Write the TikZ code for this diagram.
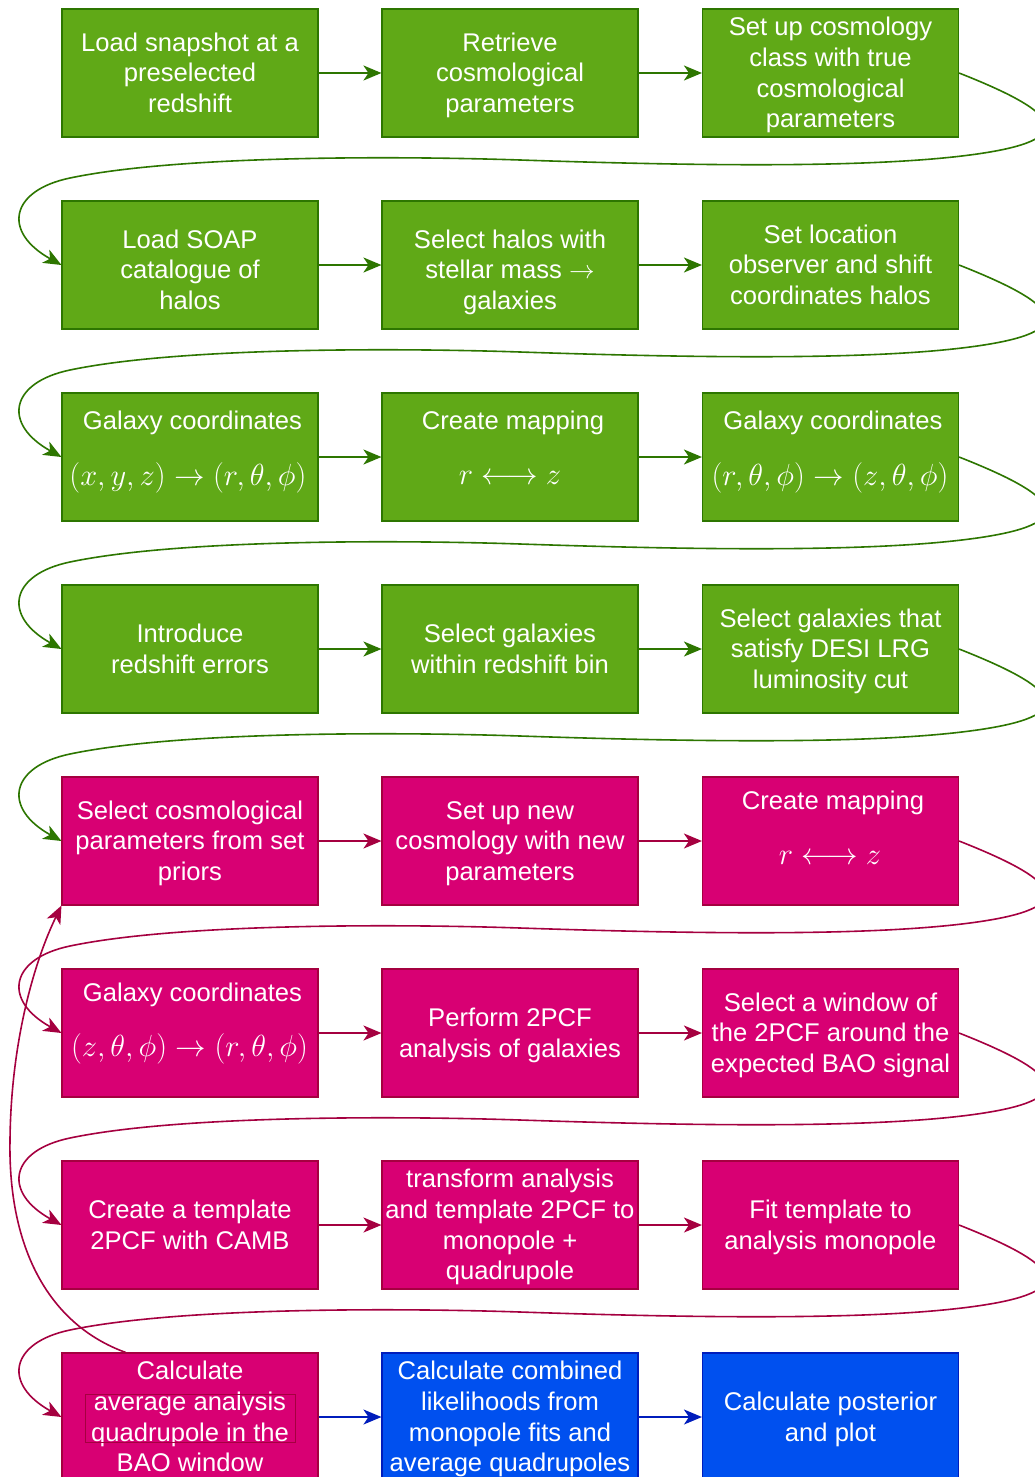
\documentclass[tikz,border=0pt]{standalone}
\usepackage{fix-cm}
\usepackage[no-math]{fontspec}
\setmainfont{Liberation Sans}
\usetikzlibrary{arrows.meta,calc}
\definecolor{gfill}{HTML}{60A917}
\definecolor{gline}{HTML}{2D7600}
\definecolor{mfill}{HTML}{D80073}
\definecolor{mline}{HTML}{A50040}
\definecolor{bfill}{HTML}{0050EF}
\definecolor{bline}{HTML}{001DBC}
\newcommand{\mathfs}{\fontsize{30.5}{36}\selectfont}
\newcommand{\ls}{\rule[-6.5pt]{0pt}{30.7pt}}
\newcommand{\lsd}{\rule[-6.5pt]{0pt}{40.7pt}}
\newcommand{\rowlink}[4]{%
\begin{scope}[shift={(0,#3)}]
\draw[#4] (#1.east) .. controls (1040,105) and (1090,135) .. (990,152)
  .. controls (890,169) and (700,166) .. (520,160)
  .. controls (400,156) and (180,155) .. (70,178)
  .. controls (10,190.5) and (2,232) .. (#2.west);
\end{scope}}
\tikzset{
  box/.style={minimum width=256pt, minimum height=128pt, inner sep=0pt, align=center,
    text=white, font=\fontsize{25.6}{30.7}\selectfont, line width=1.1pt},
  gbox/.style={box, fill=gfill, draw=gline},
  mbox/.style={box, fill=mfill, draw=mline},
  bbox/.style={box, fill=bfill, draw=bline},
  txt/.style={inner sep=0pt, text=white, font=\fontsize{25.6}{30.7}\selectfont, anchor=base},
  mtxt/.style={inner sep=0pt, text=white, font=\mathfs, anchor=base},
  conn/.style={line width=1.6pt, -{Stealth[length=18pt,width=15pt,inset=5pt]}},
  gconn/.style={conn, draw=gline},
  mconn/.style={conn, draw=mline},
  bconn/.style={conn, draw=bline},
}
\begin{document}
\begin{tikzpicture}[x=1pt,y=-1pt]
\useasboundingbox (0,0) rectangle (1035,1477);
\clip (0,0) rectangle (1035,1477);
\fill[white] (0,0) rectangle (1035,1477);

% row 1
\node[gbox] (b11) at (190,73) {\ls Load snapshot at a\\preselected\\redshift\ls};
\node[gbox] (b12) at (510,73) {\ls Retrieve\\cosmological\\parameters\ls};
\node[gbox] (b13) at (830.5,73) {\ls Set up cosmology\\class with true\\cosmological\\parameters\ls};
% row 2
\node[gbox] (b21) at (190,265) {\lsd Load SOAP\\catalogue of\\halos\ls};
\node[gbox] (b22) at (510,265) {\lsd Select halos with\\stellar mass $\rightarrow$\\galaxies\ls};
\node[gbox] (b23) at (830.5,265) {\ls Set location\\observer and shift\\coordinates halos\ls};
% row 3
\node[gbox] (b31) at (190,457) {};
\node[txt] (t31a) at (192.5,429) {Galaxy coordinates};
\node[mtxt] (t31b) at (188,485.5) {$(x,y,z)\rightarrow(r,\theta,\phi)$};
\node[gbox] (b32) at (510,457) {};
\node[txt] (t32a) at (513,429) {Create mapping};
\node[mtxt] (t32b) at (510,484) {$r\longleftrightarrow z$};
\node[gbox] (b33) at (830.5,457) {};
\node[txt] (t33a) at (833,429) {Galaxy coordinates};
\node[mtxt] (t33b) at (830,485.5) {$(r,\theta,\phi)\rightarrow(z,\theta,\phi)$};
% row 4
\node[gbox] (b41) at (190,649) {\ls Introduce\\redshift errors\ls};
\node[gbox] (b42) at (510,649) {\ls Select galaxies\\within redshift bin\ls};
\node[gbox] (b43) at (830.5,649) {\ls Select galaxies that\\satisfy DESI LRG\\luminosity cut\ls};
% row 5
\node[mbox] (b51) at (190,841) {\ls Select cosmological\\parameters from set\\priors\ls};
\node[mbox] (b52) at (510,841) {\ls Set up new\\cosmology with new\\parameters\ls};
\node[mbox] (b53) at (830.5,841) {};
\node[txt] (t53a) at (833,809) {Create mapping};
\node[mtxt] (t53b) at (830,864) {$r\longleftrightarrow z$};
% row 6
\node[mbox] (b61) at (190,1033) {};
\node[txt] (t61a) at (192.5,1001) {Galaxy coordinates};
\node[mtxt] (t61b) at (189.5,1056) {$(z,\theta,\phi)\rightarrow(r,\theta,\phi)$};
\node[mbox] (b62) at (510,1033) {\ls Perform 2PCF\\analysis of galaxies\ls};
\node[mbox] (b63) at (830.5,1033) {\ls Select a window of\\the 2PCF around the\\expected BAO signal\ls};
% row 7
\node[mbox] (b71) at (190,1225) {\ls Create a template\\2PCF with CAMB\ls};
\node[mbox] (b72) at (510,1225) {\ls transform analysis\\and template 2PCF to\\monopole +\\quadrupole\ls};
\node[mbox] (b73) at (830.5,1225) {\ls Fit template to\\analysis monopole\ls};
% row 8
\node[mbox] (b81) at (190,1417) {\ls Calculate\\average analysis\\quadrupole in the\\BAO window\ls};
\node[draw=mline, line width=0.9pt, minimum width=210pt, minimum height=48pt, inner sep=0pt] (f81) at (190,1418) {};
\node[bbox] (b82) at (510,1417) {\ls Calculate combined\\likelihoods from\\monopole fits and\\average quadrupoles\ls};
\node[bbox] (b83) at (830.5,1417) {\ls Calculate posterior\\and plot\ls};

% straight connectors
\draw[gconn] (b11.east) -- (b12.west);
\draw[gconn] (b12.east) -- (b13.west);
\draw[gconn] (b21.east) -- (b22.west);
\draw[gconn] (b22.east) -- (b23.west);
\draw[gconn] (b31.east) -- (b32.west);
\draw[gconn] (b32.east) -- (b33.west);
\draw[gconn] (b41.east) -- (b42.west);
\draw[gconn] (b42.east) -- (b43.west);
\draw[mconn] (b51.east) -- (b52.west);
\draw[mconn] (b52.east) -- (b53.west);
\draw[mconn] (b61.east) -- (b62.west);
\draw[mconn] (b62.east) -- (b63.west);
\draw[mconn] (b71.east) -- (b72.west);
\draw[mconn] (b72.east) -- (b73.west);
\draw[bconn] (b81.east) -- (b82.west);
\draw[bconn] (b82.east) -- (b83.west);

% row-to-row curved connectors
\rowlink{b13}{b21}{0}{gconn}
\rowlink{b23}{b31}{192}{gconn}
\rowlink{b33}{b41}{384}{gconn}
\rowlink{b43}{b51}{576}{gconn}
\rowlink{b53}{b61}{768}{mconn}
\rowlink{b63}{b71}{960}{mconn}
\rowlink{b73}{b81}{1152}{mconn}

% back connector
\coordinate (s81) at ($(b81.north west)!0.25!(b81.north east)$);
\draw[mconn] (s81) .. controls (50,1325) and (8,1250) .. (10,1140)
  .. controls (11,1040) and (35,960) .. (b51.south west);
\end{tikzpicture}
\end{document}
